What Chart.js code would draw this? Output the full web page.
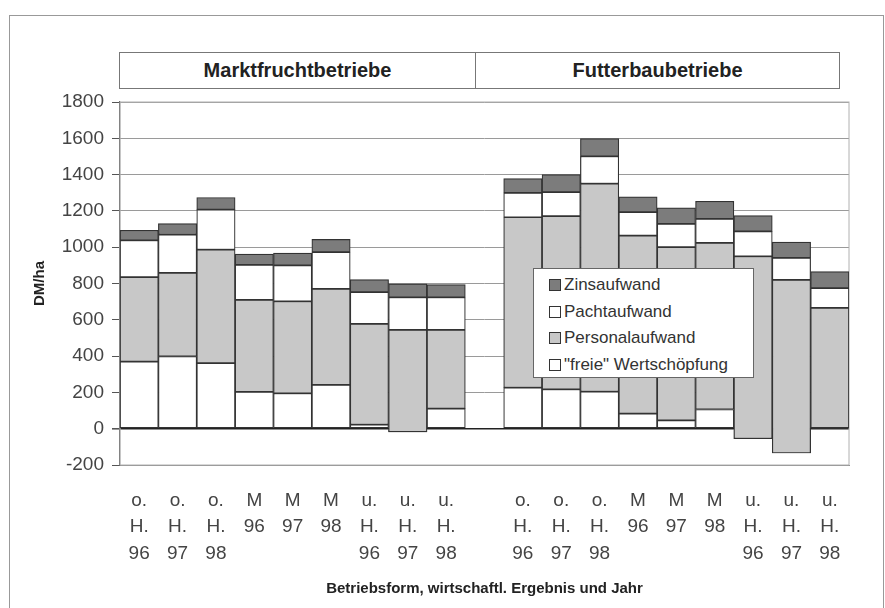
<!DOCTYPE html>
<html>
<head>
<meta charset="utf-8">
<script src="https://cdn.jsdelivr.net/npm/chart.js@4.4.1/dist/chart.umd.min.js"></script>
<style>
	body { margin: 0; background: #fff; font-family: "Liberation Sans", Arial, sans-serif; }
	#wrap { position: relative; width: 885px; height: 608px; overflow: hidden; }
	#frame { position: absolute; left: 9px; top: 15px; width: 873px; height: 600px; border: 1.5px solid #999; }
	#head { position: absolute; left: 119px; top: 52px; width: 719px; height: 35px; border: 1.5px solid #777; display: flex; background: #fff; }
	#head div { display: flex; align-items: center; justify-content: center; font-weight: bold; font-size: 20px; color: #222; }
	#legend { position: absolute; left: 533px; top: 268px; width: 219px; height: 108px; border: 1.5px solid #666; background: #fff; }
	#legend .item { position: absolute; left: 15px; font-size: 17px; color: #333; line-height: 20px; }
	#legend .box { display: inline-block; width: 10px; height: 10px; border: 1px solid #333; margin-right: 3px; vertical-align: -1px; }
	canvas { position: absolute; left: 0; top: 0; }
</style>
</head>
<body>
<div id="wrap">
	<div id="frame"></div>
	<canvas id="chart" width="885" height="608"></canvas>
	<div id="head">
		<div style="width: 355px; border-right: 1.5px solid #777;">Marktfruchtbetriebe</div>
		<div style="flex: 1;">Futterbaubetriebe</div>
	</div>
	<div id="legend"></div>
</div>
<script>
/* Kategorien: Marktfrucht- und Futterbaubetriebe, dazwischen eine Lücke. */
const categories = [
	["o.", "H.", "96"], ["o.", "H.", "97"], ["o.", "H.", "98"],
	["M", "96"], ["M", "97"], ["M", "98"],
	["u.", "H.", "96"], ["u.", "H.", "97"], ["u.", "H.", "98"],
	"",
	["o.", "H.", "96"], ["o.", "H.", "97"], ["o.", "H.", "98"],
	["M", "96"], ["M", "97"], ["M", "98"],
	["u.", "H.", "96"], ["u.", "H.", "97"], ["u.", "H.", "98"],
];

/* Werte in DM/ha. */
const freieWertschoepfung = [370, 398, 361, 203, 195, 241, 22, -18, 111, null, 226, 217, 204, 83, 46, 106, -55, -134, 5];
const personalaufwand     = [465, 461, 625, 507, 507, 529, 555, 562, 433, null, 939, 954, 1146, 981, 954, 918, 1005, 954, 661];
const pachtaufwand        = [203, 210, 221, 193, 198, 203, 175, 180, 180, null, 134, 132, 151, 129, 128, 132, 137, 121, 108];
const zinsaufwand         = [55, 61, 67, 59, 68, 70, 70, 74, 70, null, 79, 97, 97, 84, 89, 97, 87, 87, 92];

const yTicks = [-200, 0, 200, 400, 600, 800, 1000, 1200, 1400, 1600, 1800];

const series = [
	{ label: "Zinsaufwand", values: zinsaufwand, color: "#7c7c7c" },
	{ label: "Pachtaufwand", values: pachtaufwand, color: "#ffffff" },
	{ label: "Personalaufwand", values: personalaufwand, color: "#c8c8c8" },
	{ label: "\"freie\" Wertschöpfung", values: freieWertschoepfung, color: "#ffffff" },
];

/* Kumulierte Stapel wie im alten Excel: jeder Teil beginnt, wo der vorige endet. */
const stackOrder = [3, 2, 1, 0];
const running = categories.map(() => 0);
const floating = {};
stackOrder.forEach((s) => {
	floating[s] = series[s].values.map((v, i) => {
		if (v === null) return null;
		const lo = running[i];
		running[i] = lo + v;
		return [lo, running[i]];
	});
});

const datasets = series.map((s, k) => ({
	label: s.label,
	data: floating[k],
	backgroundColor: s.color,
	borderColor: "#333",
	borderWidth: 1.2,
	borderSkipped: false,
	barPercentage: 1,
	categoryPercentage: 1,
	order: k + 1,
}));

/* Rahmen des Diagrammbereichs. */
const areaBorder = {
	id: "areaBorder",
	beforeDatasetsDraw(chart) {
		const a = chart.chartArea;
		const ctx = chart.ctx;
		ctx.save();
		ctx.strokeStyle = "#b0b0b0";
		ctx.lineWidth = 1;
		ctx.strokeRect(a.left, a.top, a.right - a.left, a.bottom - a.top);
		ctx.restore();
	},
};

new Chart(document.getElementById("chart"), {
	type: "bar",
	data: { labels: categories, datasets: datasets },
	options: {
		responsive: false,
		animation: false,
		devicePixelRatio: 1,
		layout: { padding: { left: 18, right: 36, top: 102, bottom: 4 } },
		plugins: { legend: { display: false }, tooltip: { enabled: false } },
		scales: {
			x: {
				stacked: true,
				grid: { display: false, drawTicks: false },
				border: { display: true, color: "#888", width: 1 },
				ticks: {
					autoSkip: false,
					maxRotation: 0,
					padding: 22,
					color: "#444",
					font: { family: "Liberation Sans", size: 19, lineHeight: 1.4 },
				},
				title: {
					display: true,
					text: "Betriebsform, wirtschaftl. Ergebnis und Jahr",
					color: "#222",
					font: { family: "Liberation Sans", size: 15, weight: "bold" },
					padding: { top: 6, bottom: 6 },
				},
				afterFit(scale) { scale.height = 139; },
			},
			y: {
				stacked: false,
				min: -200,
				max: 1800,
				afterBuildTicks(scale) { scale.ticks = yTicks.map((v) => ({ value: v })); },
				grid: {
					color: (c) => (c.tick && c.tick.value === 0 ? "#222" : "#9a9a9a"),
					lineWidth: (c) => (c.tick && c.tick.value === 0 ? 1.6 : 1),
					tickLength: 8,
					tickColor: "#555",
				},
				border: { display: true, color: "#555", width: 1.2 },
				ticks: {
					padding: 8,
					color: "#444",
					font: { family: "Liberation Sans", size: 19 },
					callback: (v) => String(v),
				},
				title: {
					display: true,
					text: "DM/ha",
					color: "#222",
					font: { family: "Liberation Sans", size: 15, weight: "bold" },
					padding: { top: 13, bottom: 13 },
				},
				afterFit(scale) { scale.width = 102; },
			},
		},
	},
	plugins: [areaBorder],
});

/* Legende im Diagramm, wie im Original. */
const legend = document.getElementById("legend");
series.forEach((s, k) => {
	const item = document.createElement("div");
	item.className = "item";
	item.style.top = (6 + k * 26.5) + "px";
	item.innerHTML = '<span class="box" style="background:' + s.color + '"></span>';
	item.appendChild(document.createTextNode(s.label));
	legend.appendChild(item);
});
</script>
</body>
</html>
